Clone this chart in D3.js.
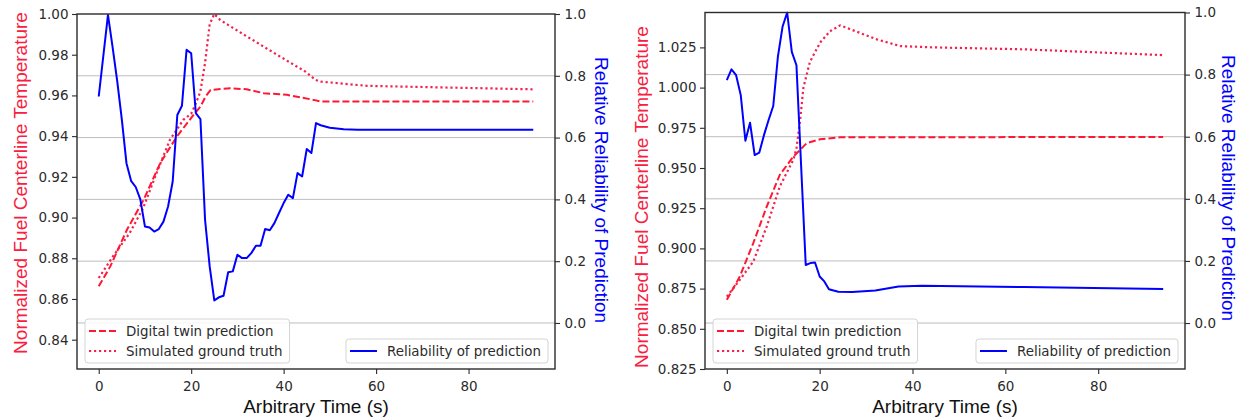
<!DOCTYPE html>
<html>
<head>
<meta charset="utf-8">
<script src="https://cdn.jsdelivr.net/npm/d3@7"></script>
<style>
  html, body { margin: 0; background: #fff; }
  svg { display: block; }
</style>
</head>
<body>
<svg id="chart" width="1244" height="419"></svg>
<script>
// ---- shared axis values ----
const timeDomain = [-4.7, 98.7];
const timeTicks = [0, 20, 40, 60, 80];
const relTicks = [0.0, 0.2, 0.4, 0.6, 0.8, 1.0];

// ---- case A ----
const tempTicksA = [0.84, 0.86, 0.88, 0.90, 0.92, 0.94, 0.96, 0.98, 1.00];
const twinTimeA = [0, 2.5, 6.1, 9.7, 13.3, 16.9, 20.5, 22, 23.1, 24.2, 28.5, 32, 35.7, 40.7, 46.5, 48, 94];
const twinTempA = [0.8662, 0.876, 0.894, 0.9087, 0.9267, 0.9398, 0.9504, 0.9545, 0.9594, 0.9627, 0.9635, 0.963, 0.9611, 0.9603, 0.9578, 0.957, 0.957];
const truthTimeA = [0, 3.1, 6.7, 9.6, 12.5, 15.4, 18.3, 20, 21, 22, 23, 24, 25, 26.3, 32.1, 39.3, 44.7, 46.9, 48, 58, 94];
const truthTempA = [0.8703, 0.881, 0.8924, 0.9046, 0.9218, 0.9382, 0.948, 0.951, 0.956, 0.962, 0.976, 0.995, 1.0, 0.997, 0.9889, 0.979, 0.9717, 0.9676, 0.9668, 0.9647, 0.963];
const relTimeA = [0, 2, 3, 4, 5, 6, 7, 8, 9, 10, 11, 12, 13, 14, 15, 16, 17, 18, 19, 20, 21, 22, 23, 24, 25, 26, 27, 28, 29, 30, 31, 32, 33, 34, 35, 36, 37, 38, 39, 40, 41, 42, 43, 44, 45, 46, 47, 48, 50, 53, 56, 94];
const relValA = [0.733, 0.997, 0.893, 0.783, 0.658, 0.517, 0.46, 0.44, 0.40, 0.312, 0.309, 0.296, 0.304, 0.328, 0.377, 0.458, 0.673, 0.703, 0.884, 0.873, 0.679, 0.66, 0.334, 0.183, 0.073, 0.083, 0.088, 0.164, 0.167, 0.221, 0.21, 0.21, 0.226, 0.25, 0.25, 0.304, 0.30, 0.323, 0.356, 0.388, 0.415, 0.404, 0.485, 0.474, 0.563, 0.55, 0.647, 0.640, 0.632, 0.627, 0.625, 0.625];

// ---- case B ----
const tempTicksB = [0.825, 0.850, 0.875, 0.900, 0.925, 0.950, 0.975, 1.000, 1.025];
const twinTimeB = [0, 2.8, 5.7, 8.6, 11.4, 14.3, 17.2, 20.1, 24.4, 94];
const twinTempB = [0.868, 0.8825, 0.9033, 0.926, 0.9457, 0.957, 0.9654, 0.9679, 0.9691, 0.9693];
const truthTimeB = [0, 2.8, 5.7, 8.6, 11.4, 14.3, 15, 15.8, 16.5, 17.9, 20.1, 22.2, 24.4, 28.7, 32.3, 37.4, 44.6, 64, 94];
const truthTempB = [0.870, 0.8805, 0.8918, 0.9136, 0.9384, 0.955, 0.962, 0.98, 1.0, 1.016, 1.028, 1.035, 1.0387, 1.034, 1.030, 1.0258, 1.025, 1.0238, 1.0202];
const relTimeB = [0, 1, 2, 3, 4, 5, 6, 7, 8, 9, 10, 11, 12, 13, 14, 15, 17, 18, 19, 20, 21, 22, 24, 27, 32, 37, 42, 64, 94];
const relValB = [0.782, 0.817, 0.798, 0.734, 0.587, 0.645, 0.541, 0.549, 0.605, 0.654, 0.699, 0.857, 0.954, 1.0, 0.873, 0.83, 0.187, 0.193, 0.195, 0.15, 0.134, 0.109, 0.101, 0.0997, 0.105, 0.118, 0.12, 0.116, 0.110];

// ---- labels ----
const xLabel = "Arbitrary Time (s)";
const tempLabel = "Normalized Fuel Centerline Temperature";
const relLabel = "Relative Reliability of Prediction";
const twinName = "Digital twin prediction";
const truthName = "Simulated ground truth";
const relName = "Reliability of prediction";

// ---- styling ----
const RED = "#ff1833";
const PINK = "#f5204e";
const LABEL_RED = "#f7203f";
const BLUE = "#0000ff";
const INK = "#2b2b2b";
const TICK_FONT = "'DejaVu Sans', sans-serif";
const LABEL_FONT = "'Liberation Sans', Arial, sans-serif";
const DASH = "7,3";
const DOT = "2.2,2.8";

const panels = [
  { left: 77, right: 555, top: 14, bottom: 369,
    tempDomain: [0.8256, 1.0], tempTicks: tempTicksA, tempFmt: d3.format(".2f"),
    relDomain: [-0.149, 1.0],
    twin: [twinTimeA, twinTempA], truth: [truthTimeA, truthTempA], rel: [relTimeA, relValA],
    tempLabelPos: [20, 183], relLabelPos: [602, 190] },
  { left: 705, right: 1185, top: 12.5, bottom: 369,
    tempDomain: [0.825, 1.0467], tempTicks: tempTicksB, tempFmt: d3.format(".3f"),
    relDomain: [-0.148, 1.0],
    twin: [twinTimeB, twinTempB], truth: [truthTimeB, truthTempB], rel: [relTimeB, relValB],
    tempLabelPos: [641, 197], relLabelPos: [1229, 188] }
];

const svg = d3.select("#chart");

function zipSeries(ts, vs) { return ts.map((t, i) => [t, vs[i]]); }

function styleAxis(g) {
  g.selectAll("path.domain").remove();
  g.selectAll(".tick line").attr("stroke", INK).attr("stroke-width", 1.1);
  g.selectAll(".tick text").attr("fill", INK)
    .style("font-family", TICK_FONT).style("font-size", "13.5px");
}

function legend(g, x, y, items, alignRight) {
  const lg = g.append("g");
  const box = lg.append("rect").attr("rx", 3).attr("ry", 3)
    .attr("fill", "#fff").attr("fill-opacity", 0.85)
    .attr("stroke", "#d4d4d4").attr("stroke-width", 1);
  const rowH = 20, handle = 27, padL = 4, gap = 10, padR = 7;
  let maxW = 0;
  items.forEach((it, i) => {
    const cy = 9 + rowH * i + 3;
    lg.append("line").attr("x1", padL).attr("x2", padL + handle)
      .attr("y1", cy).attr("y2", cy)
      .attr("stroke", it.color).attr("stroke-width", 2)
      .attr("stroke-dasharray", it.dash || null);
    const t = lg.append("text").attr("x", padL + handle + gap).attr("y", cy)
      .attr("dy", "0.36em").attr("fill", INK)
      .style("font-family", TICK_FONT).style("font-size", "13.4px")
      .text(it.name);
    maxW = Math.max(maxW, t.node().getComputedTextLength());
  });
  const w = padL + handle + gap + maxW + padR;
  const h = rowH * items.length + 4;
  box.attr("width", w).attr("height", h);
  const bx = alignRight ? x - w : x;
  lg.attr("transform", `translate(${bx},${y - h})`);
}

panels.forEach(p => {
  const g = svg.append("g");
  const x = d3.scaleLinear().domain(timeDomain).range([p.left, p.right]);
  const yT = d3.scaleLinear().domain(p.tempDomain).range([p.bottom, p.top]);
  const yR = d3.scaleLinear().domain(p.relDomain).range([p.bottom, p.top]);

  // horizontal grid from the reliability axis
  g.append("g").selectAll("line").data(relTicks.filter(v => v < 0.999)).join("line")
    .attr("x1", p.left).attr("x2", p.right)
    .attr("y1", d => yR(d)).attr("y2", d => yR(d))
    .attr("stroke", "#b5b5b5").attr("stroke-width", 0.9);

  const clipId = "clip" + p.left;
  svg.append("clipPath").attr("id", clipId).append("rect")
    .attr("x", p.left).attr("y", p.top - 1)
    .attr("width", p.right - p.left).attr("height", p.bottom - p.top + 1);

  const plot = g.append("g").attr("clip-path", `url(#${clipId})`);
  const lineT = d3.line().x(d => x(d[0])).y(d => yT(d[1]));
  const lineR = d3.line().x(d => x(d[0])).y(d => yR(d[1]));

  plot.append("path").datum(zipSeries(...p.truth)).attr("d", lineT)
    .attr("fill", "none").attr("stroke", PINK).attr("stroke-width", 2.2)
    .attr("stroke-dasharray", DOT);
  plot.append("path").datum(zipSeries(...p.twin)).attr("d", lineT)
    .attr("fill", "none").attr("stroke", RED).attr("stroke-width", 2)
    .attr("stroke-dasharray", DASH);

  // legend of the temperature axis sits under the reliability trace
  legend(g, p.left + 8, p.bottom - 6, [
    { name: twinName, color: RED, dash: DASH },
    { name: truthName, color: PINK, dash: DOT }
  ], false);

  plot.append("path").datum(zipSeries(...p.rel)).attr("d", lineR)
    .attr("fill", "none").attr("stroke", BLUE).attr("stroke-width", 2)
    .attr("stroke-linejoin", "round");

  legend(g, p.right - 7, p.bottom - 6, [
    { name: relName, color: BLUE }
  ], true);

  // frame
  g.append("rect").attr("x", p.left).attr("y", p.top)
    .attr("width", p.right - p.left).attr("height", p.bottom - p.top)
    .attr("fill", "none").attr("stroke", INK).attr("stroke-width", 1.4);

  // axes
  g.append("g").attr("transform", `translate(0,${p.bottom})`)
    .call(d3.axisBottom(x).tickValues(timeTicks).tickFormat(d3.format("d"))
      .tickSizeOuter(0).tickSize(5).tickPadding(7))
    .call(styleAxis);
  g.append("g").attr("transform", `translate(${p.left},0)`)
    .call(d3.axisLeft(yT).tickValues(p.tempTicks).tickFormat(p.tempFmt)
      .tickSizeOuter(0).tickSize(5).tickPadding(3.5))
    .call(styleAxis);
  g.append("g").attr("transform", `translate(${p.right},0)`)
    .call(d3.axisRight(yR).tickValues(relTicks).tickFormat(d3.format(".1f"))
      .tickSizeOuter(0).tickSize(5).tickPadding(4.5))
    .call(styleAxis);

  // axis titles
  g.append("text").attr("x", (p.left + p.right) / 2).attr("y", 413)
    .attr("text-anchor", "middle").attr("fill", "#111")
    .style("font-family", LABEL_FONT).style("font-size", "19px")
    .text(xLabel);
  g.append("text")
    .attr("transform", `translate(${p.tempLabelPos[0]},${p.tempLabelPos[1]}) rotate(-90)`)
    .attr("text-anchor", "middle").attr("dy", "0.35em").attr("fill", LABEL_RED)
    .style("font-family", LABEL_FONT).style("font-size", "19px")
    .text(tempLabel);
  g.append("text")
    .attr("transform", `translate(${p.relLabelPos[0]},${p.relLabelPos[1]}) rotate(90)`)
    .attr("text-anchor", "middle").attr("dy", "0.35em").attr("fill", BLUE)
    .style("font-family", LABEL_FONT).style("font-size", "19px")
    .text(relLabel);
});
</script>
</body>
</html>
